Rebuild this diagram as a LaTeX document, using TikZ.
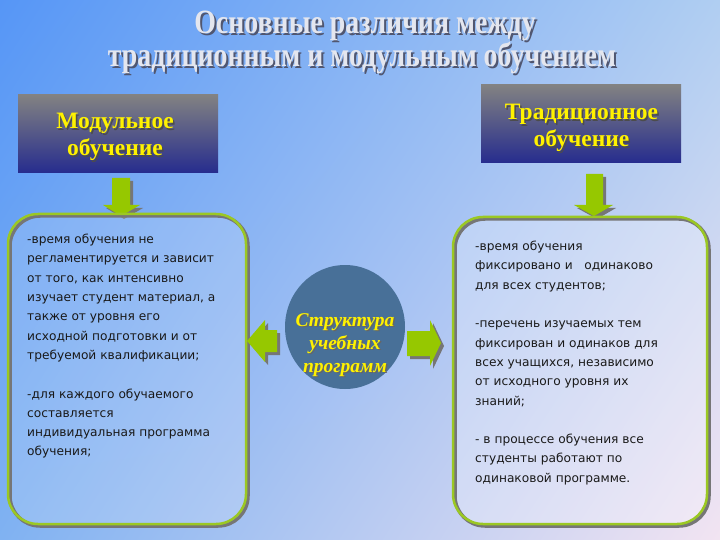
\documentclass[tikz,border=0pt]{standalone}
\usepackage{fontspec}
\setmainfont{Liberation Serif}
\newfontfamily\bodyfont{DejaVu Sans}
\newfontfamily\titlefont[FakeStretch=0.82]{Liberation Serif}
\usetikzlibrary{shapes.geometric,shadings}

\definecolor{bgUL}{RGB}{86,150,246}
\definecolor{bgUR}{RGB}{176,206,242}
\definecolor{bgLL}{RGB}{128,178,242}
\definecolor{bgLR}{RGB}{242,228,242}
\definecolor{hdtop}{RGB}{130,130,130}
\definecolor{hdbot}{RGB}{38,44,142}
\definecolor{arrgreen}{RGB}{150,200,0}
\definecolor{rimgreen}{RGB}{155,200,35}
\definecolor{rimgray}{RGB}{118,118,118}
\definecolor{ovalblue}{RGB}{72,112,152}
\definecolor{titlegray}{RGB}{228,230,238}
\definecolor{titleshadow}{RGB}{80,86,112}

\tikzset{
  headbox/.style={rectangle,minimum width=200pt,minimum height=78pt,
    top color=hdtop,bottom color=hdbot,inner sep=0pt},
  headtext/.style={align=center,text=yellow,
    font=\fontsize{23.5}{27}\selectfont\bfseries},
  headshade/.style={headtext,text=black!70},
  titletext/.style={font=\titlefont\fontsize{34}{32}\selectfont\bfseries,text=titlegray},
  titleshade/.style={titletext,text=titleshadow},
  bodytext/.style={anchor=north west,inner sep=0pt,align=left,text=black!90,
    font=\bodyfont\fontsize{12.2}{19.3}\selectfont},
  listbox/.style={rounded corners=30pt,fill=white,fill opacity=0.15},
  rim/.style={rounded corners=30pt,draw=rimgreen,line width=2.5pt},
  rimshade/.style={rounded corners=30pt,draw=rimgray,line width=3.5pt},
  ovaltext/.style={align=center,text=yellow,
    font=\fontsize{19.5}{23}\selectfont\bfseries\itshape},
}

\begin{document}
\begin{tikzpicture}[x=1pt,y=-1pt]

\useasboundingbox (0,0) rectangle (720,540);
\shade[upper left=bgUL,upper right=bgUR,lower left=bgLL,lower right=bgLR]
  (0,0) rectangle (720,540);

% title
\node[titleshade] (t1s) at (367,28) {Основные различия между};
\node[titletext] (t1) at (365,26) {Основные различия между};
\node[titleshade] (t2s) at (364,60) {традиционным и модульным обучением};
\node[titletext] (t2) at (362,58) {традиционным и модульным обучением};

% headers
\node[headbox] (modhead) at (118,134) {};
\node[headshade] (modshade) at (116.5,138.5) {Модульное\\обучение};
\node[headtext] (modtext) at (115,137) {Модульное\\обучение};

\node[headbox] (trhead) at (581,124) {};
\node[headshade] (trshade) at (583,129.5) {Традиционное\\обучение};
\node[headtext] (trtext) at (581.5,128) {Традиционное\\обучение};

% down arrows
\fill[rimgray] (115,181) -- (133,181) -- (133,208) -- (143,208) -- (124,219)
  -- (106,208) -- (115,208) -- cycle;
\fill[arrgreen] (112,178) -- (130,178) -- (130,205) -- (140,205) -- (121,216)
  -- (103,205) -- (112,205) -- cycle;
\fill[rimgray] (589,177) -- (606,177) -- (606,208) -- (616,208) -- (597,219)
  -- (577,208) -- (589,208) -- cycle;
\fill[arrgreen] (586,174) -- (603,174) -- (603,205) -- (613,205) -- (594,216)
  -- (574,205) -- (586,205) -- cycle;

% boxes
\fill[listbox] (8,214) rectangle (246,524);
\draw[rimshade] (10,216) rectangle (248,526);
\draw[rim] (8,214) rectangle (246,524);

\fill[listbox,fill opacity=0.25] (453,217) rectangle (707,524);
\draw[rimshade] (455,219) rectangle (709,526);
\draw[rim] (453,217) rectangle (707,524);

\node[bodytext] (modlist) at (27,234) {-время обучения не\\
регламентируется и зависит\\
от того, как интенсивно\\
изучает студент материал, а\\
также от уровня его\\
исходной подготовки и от\\
требуемой квалификации;\\[19.3pt]
-для каждого обучаемого\\
составляется\\
индивидуальная программа\\
обучения;};

\node[bodytext] (trlist) at (475,241) {-время обучения\\
фиксировано и \ \ одинаково\\
для всех студентов;\\[19.3pt]
-перечень изучаемых тем\\
фиксирован и одинаков для\\
всех учащихся, независимо\\
от исходного уровня их\\
знаний;\\[19.3pt]
- в процессе обучения все\\
студенты работают по\\
одинаковой программе.};

% centre
\node[ellipse,fill=ovalblue,minimum width=120pt,minimum height=124pt,
  inner sep=0pt] (struct) at (345,327) {};
\node[ovaltext,text=black!60] (structs) at (346.5,346.5) {Структура\\учебных\\программ};
\node[ovaltext] (structt) at (345,345) {Структура\\учебных\\программ};

% side arrows
\fill[rimgray] (250,344) -- (268,323) -- (268,333) -- (280,333) -- (280,355)
  -- (268,355) -- (268,365) -- cycle;
\fill[arrgreen] (247,341) -- (265,320) -- (265,330) -- (277,330) -- (277,352)
  -- (265,352) -- (265,362) -- cycle;
\fill[rimgray] (444,346) -- (433,323) -- (433,334) -- (410,334) -- (410,359)
  -- (433,359) -- (433,369) -- cycle;
\fill[arrgreen] (441,343) -- (430,320) -- (430,331) -- (407,331) -- (407,356)
  -- (430,356) -- (430,366) -- cycle;

\end{tikzpicture}
\end{document}
